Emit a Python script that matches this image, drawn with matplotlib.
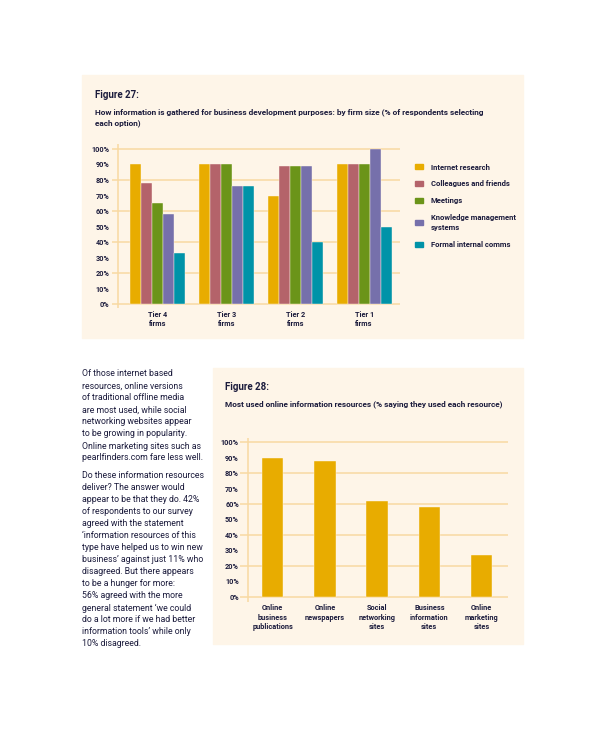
import matplotlib
matplotlib.use("Agg")
import matplotlib.pyplot as plt
from matplotlib import font_manager
from matplotlib.patches import Rectangle, Patch

# Figure 27 data: % of respondents by firm size
tiers = ["Tier 4\nfirms", "Tier 3\nfirms", "Tier 2\nfirms", "Tier 1\nfirms"]
methods = ["Internet research", "Colleagues and friends", "Meetings",
           "Knowledge management\nsystems", "Formal internal comms"]
internet_research = [90, 90, 70, 90]
colleagues_friends = [78, 90, 89, 90]
meetings = [65, 90, 89, 90]
knowledge_mgmt = [58, 76, 89, 100]
internal_comms = [33, 76, 40, 50]

# Figure 28 data: % saying they used each resource
resources = ["Online\nbusiness\npublications", "Online\nnewspapers",
             "Social\nnetworking\nsites", "Business\ninformation\nsites",
             "Online\nmarketing\nsites"]
resource_used = [90, 88, 62, 58, 27]

para1 = ["Of those internet based",
         "resources, online versions",
         "of traditional offline media",
         "are most used, while social",
         "networking websites appear",
         "to be growing in popularity.",
         "Online marketing sites such as",
         "pearlfinders.com fare less well."]
para2 = ["Do these information resources",
         "deliver? The answer would",
         "appear to be that they do. 42%",
         "of respondents to our survey",
         "agreed with the statement",
         "\u2018information resources of this",
         "type have helped us to win new",
         "business\u2019 against just 11% who",
         "disagreed. But there appears",
         "to be a hunger for more:",
         "56% agreed with the more",
         "general statement \u2018we could",
         "do a lot more if we had better",
         "information tools\u2019 while only",
         "10% disagreed."]

colors = ["#e8ac00", "#b4636a", "#6b9419", "#7670ab", "#0093a8"]
cream = "#fef5e8"
gridc = "#f8d9a2"
ink = "#1b1b3c"

names = {f.name for f in font_manager.fontManager.ttflist}
fam = "Liberation Sans Narrow" if "Liberation Sans Narrow" in names else "Roboto"
plt.rcParams["font.family"] = [fam, "DejaVu Sans"]
plt.rcParams["text.color"] = ink

W, H = 600, 730
fig = plt.figure(figsize=(6, 7.3), dpi=100)


def box(l, t, r, b):
    return [l / W, 1 - b / H, (r - l) / W, (b - t) / H]


def panel(l, t, r, b):
    fig.add_artist(Rectangle((l / W, 1 - b / H), (r - l) / W, (b - t) / H,
                             transform=fig.transFigure, color=cream, zorder=0))


panel(82, 75, 523, 338)
panel(213, 368, 523, 644)

# ---- Figure 27 ----
fig.text(95 / W, 1 - 95 / H, "Figure 27:", fontsize=7, weight="bold", va="center")
fig.text(95 / W, 1 - 112 / H,
         "How information is gathered for business development purposes: by firm size (% of respondents selecting",
         fontsize=5.95, weight="bold", va="center")
fig.text(95 / W, 1 - 123 / H, "each option)", fontsize=5.95, weight="bold", va="center")

ax1 = fig.add_axes(box(112, 144.3, 400, 308.2))
ax1.patch.set_alpha(0)
ax1.set_xlim(-0.659, 3.52)
ax1.set_ylim(-2.5, 103)
for s in ax1.spines.values():
    s.set_visible(False)
for g in range(0, 101, 20):
    ax1.axhline(g, color=gridc, lw=1.1, zorder=0)
ax1.axvline(-0.571, color=gridc, lw=1.1, zorder=0)

series = [internet_research, colleagues_friends, meetings, knowledge_mgmt, internal_comms]
bw = 0.16
for k, vals in enumerate(series):
    xs = [i + (k - 2) * bw for i in range(len(tiers))]
    ax1.bar(xs, vals, width=bw, color=colors[k], edgecolor=cream, linewidth=0.3,
            label=methods[k], zorder=2)

ax1.set_yticks(range(0, 101, 10))
ax1.set_yticklabels([f"{v}%" for v in range(0, 101, 10)], fontsize=5.2, weight="bold")
ax1.set_xticks(range(len(tiers)))
ax1.set_xticklabels(tiers, fontsize=5.3, weight="bold", linespacing=1.3)
ax1.tick_params(axis="y", length=0, pad=2.0, colors=ink)
ax1.tick_params(axis="x", length=0, pad=1.8, colors=ink)

handles = [Patch(color=c) for c in colors]
leg = fig.legend(handles, methods, loc="upper left", bbox_to_anchor=(415 / W, 1 - 163.5 / H),
                 frameon=False, prop={"family": [fam, "DejaVu Sans"], "size": 5.5, "weight": "bold"},
                 handlelength=1.05, handleheight=0.65, handletextpad=1.0,
                 labelspacing=1.28, borderpad=0, borderaxespad=0)
for t in leg.texts:
    t.set_linespacing(1.6)

# ---- Figure 28 ----
fig.text(225 / W, 1 - 387 / H, "Figure 28:", fontsize=7, weight="bold", va="center")
fig.text(225 / W, 1 - 404.5 / H,
         "Most used online information resources (% saying they used each resource)",
         fontsize=5.95, weight="bold", va="center")

ax2 = fig.add_axes(box(240, 437.7, 507.7, 601.6))
ax2.patch.set_alpha(0)
ax2.set_xlim(-0.625, 4.5)
ax2.set_ylim(-3.2, 103)
for s in ax2.spines.values():
    s.set_visible(False)
for g in range(0, 101, 20):
    ax2.axhline(g, color=gridc, lw=1.1, zorder=0)
ax2.axvline(-0.48, color=gridc, lw=1.1, zorder=0)
ax2.bar(range(len(resources)), resource_used, width=0.41, color=colors[0],
        edgecolor=cream, linewidth=0.3, zorder=2)
ax2.set_yticks(range(0, 101, 10))
ax2.set_yticklabels([f"{v}%" for v in range(0, 101, 10)], fontsize=5.2, weight="bold")
ax2.set_xticks(range(len(resources)))
ax2.set_xticklabels(resources, fontsize=5.3, weight="bold", linespacing=1.2)
ax2.tick_params(axis="y", length=0, pad=0.8, colors=ink)
ax2.tick_params(axis="x", length=0, pad=2.0, colors=ink)

# ---- body text ----
pitch = 12.0
for i, line in enumerate(para1):
    fig.text(82 / W, 1 - (374 + i * pitch) / H, line, fontsize=6.3, va="center")
for i, line in enumerate(para2):
    fig.text(82 / W, 1 - (476 + i * pitch) / H, line, fontsize=6.3, va="center")

fig.savefig("out.png", dpi=100, facecolor="white")
